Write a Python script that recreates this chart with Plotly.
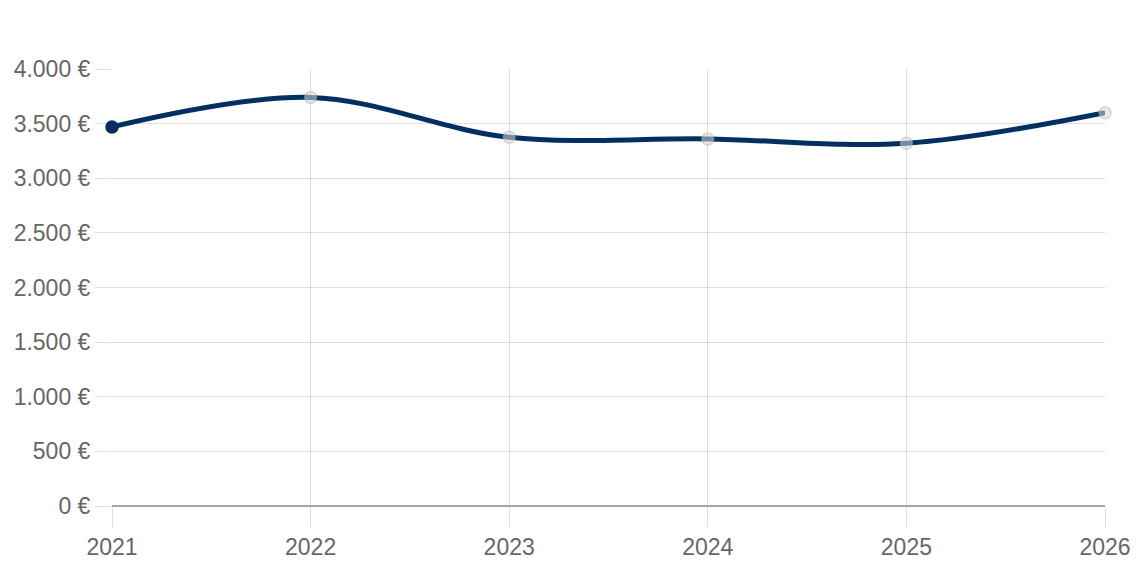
import plotly.graph_objects as go

years = [2021, 2022, 2023, 2024, 2025, 2026]
values = [3470, 3740, 3375, 3360, 3320, 3600]
y_ticks = [0, 500, 1000, 1500, 2000, 2500, 3000, 3500, 4000]
y_tick_labels = ["0 \u20ac", "500 \u20ac", "1.000 \u20ac", "1.500 \u20ac", "2.000 \u20ac",
                 "2.500 \u20ac", "3.000 \u20ac", "3.500 \u20ac", "4.000 \u20ac"]

navy = "#00305f"
grid = "rgba(0,0,0,0.13)"
marker_colors = [navy] + ["rgba(215,215,215,0.55)"] * (len(years) - 1)
marker_lines = [navy] + ["rgba(170,170,170,0.45)"] * (len(years) - 1)

fig = go.Figure()
fig.add_trace(go.Scatter(
    x=years, y=values, mode="lines+markers",
    line=dict(color=navy, width=5, shape="spline", smoothing=1.0),
    marker=dict(size=12, color=marker_colors, line=dict(color=marker_lines, width=1.5)),
    cliponaxis=False, hoverinfo="skip", showlegend=False,
))

font = dict(family="Liberation Sans, Arial, Helvetica, sans-serif", size=23, color="#666666")
fig.update_layout(
    width=1138, height=568,
    margin=dict(l=112, r=33, t=69, b=62),
    paper_bgcolor="white", plot_bgcolor="white",
    font=font,
    xaxis=dict(
        range=[2021, 2026], tickvals=years, ticktext=[str(y) for y in years],
        showgrid=True, gridcolor=grid, gridwidth=1, automargin=False,
        ticks="outside", ticklen=20, tickcolor=grid, tickwidth=1,
        zeroline=False, showline=False, tickfont=font,
    ),
    yaxis=dict(
        range=[0, 4000], tickvals=y_ticks, ticktext=y_tick_labels,
        showgrid=True, gridcolor=grid, gridwidth=1, automargin=False,
        ticks="outside", ticklen=16, tickcolor=grid, tickwidth=1,
        zeroline=True, zerolinecolor="#a6a6a6", zerolinewidth=1.5,
        showline=False, tickfont=font,
    ),
)

fig.write_html("out.html")
